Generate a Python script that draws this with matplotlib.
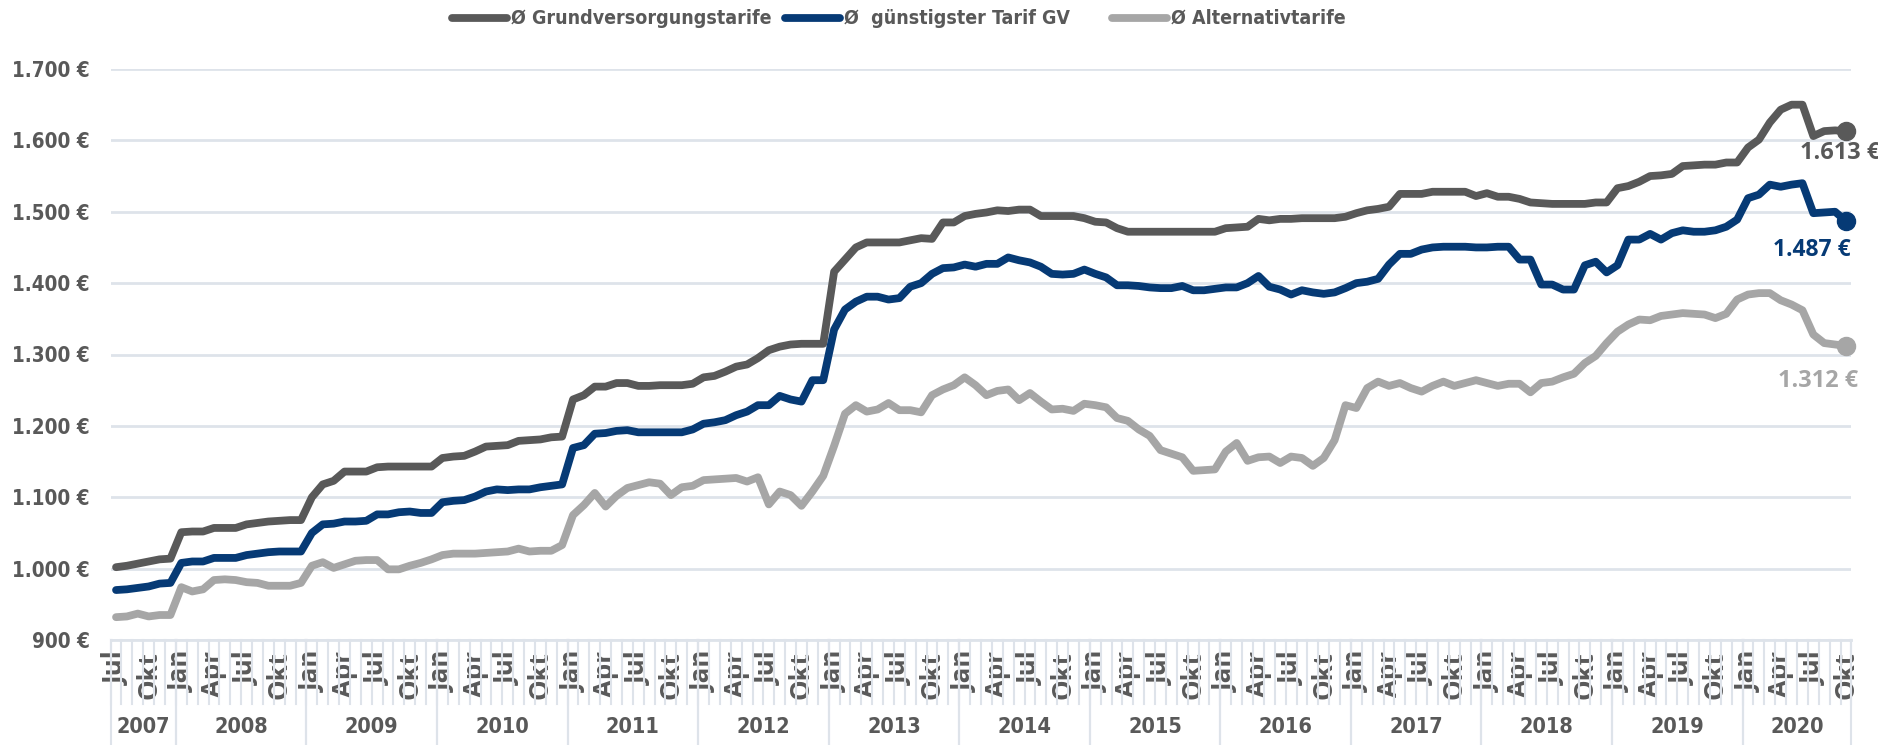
import matplotlib
matplotlib.use("Agg")
import matplotlib.pyplot as plt
from matplotlib.lines import Line2D
from matplotlib import font_manager
import numpy as np

# ---------------- data ----------------
years = [2007, 2008, 2009, 2010, 2011, 2012, 2013, 2014, 2015, 2016, 2017, 2018, 2019, 2020]
months_per_year = [6, 12, 12, 12, 12, 12, 12, 12, 12, 12, 12, 12, 12, 10]
month_names = ["Jan", "Feb", "Mär", "Apr", "Mai", "Jun", "Jul", "Aug", "Sep", "Okt", "Nov", "Dez"]
start_month = 7  # Jul 2007

grundversorgung = [
    1002, 1004, 1007, 1010, 1013, 1014,
    1051, 1052, 1052, 1057, 1057, 1057, 1062, 1064, 1066, 1067, 1068, 1068,
    1100, 1118, 1123, 1136, 1136, 1136, 1142, 1143, 1143, 1143, 1143, 1143,
    1155, 1157, 1158, 1164, 1171, 1172, 1173, 1179, 1180, 1181, 1184, 1185,
    1237, 1243, 1255, 1255, 1260, 1260, 1256, 1256, 1257, 1257, 1257, 1259,
    1268, 1270, 1276, 1283, 1286, 1295, 1306, 1311, 1314, 1315, 1315, 1315,
    1416, 1433, 1450, 1457, 1457, 1457, 1457, 1460, 1463, 1462, 1485, 1485,
    1494, 1497, 1499, 1502, 1501, 1503, 1503, 1494, 1494, 1494, 1494, 1491,
    1486, 1485, 1477, 1472, 1472, 1472, 1472, 1472, 1472, 1472, 1472, 1472,
    1477, 1478, 1479, 1490, 1488, 1490, 1490, 1491, 1491, 1491, 1491, 1493,
    1498, 1502, 1504, 1507, 1525, 1525, 1525, 1528, 1528, 1528, 1528, 1522,
    1526, 1521, 1521, 1518, 1513, 1512, 1511, 1511, 1511, 1511, 1513, 1513,
    1533, 1536, 1542, 1550, 1551, 1553, 1564, 1565, 1566, 1566, 1569, 1569,
    1590, 1601, 1625, 1643, 1650, 1650, 1606, 1613, 1614, 1613,
]
guenstigster_gv = [
    970, 971, 973, 975, 979, 980,
    1008, 1010, 1010, 1015, 1015, 1015, 1019, 1021, 1023, 1024, 1024, 1024,
    1050, 1062, 1063, 1066, 1066, 1067, 1076, 1076, 1079, 1080, 1078, 1078,
    1093, 1095, 1096, 1101, 1108, 1111, 1110, 1111, 1111, 1114, 1116, 1118,
    1169, 1173, 1189, 1190, 1193, 1194, 1191, 1191, 1191, 1191, 1191, 1195,
    1203, 1205, 1208, 1215, 1220, 1229, 1229, 1242, 1237, 1234, 1264, 1264,
    1335, 1363, 1374, 1381, 1381, 1377, 1379, 1395, 1400, 1413, 1421, 1422,
    1426, 1423, 1427, 1427, 1436, 1432, 1429, 1423, 1413, 1412, 1413, 1419,
    1413, 1408, 1397, 1397, 1396, 1394, 1393, 1393, 1396, 1390, 1390, 1392,
    1394, 1394, 1400, 1410, 1395, 1391, 1384, 1390, 1387, 1385, 1387, 1393,
    1400, 1402, 1406, 1426, 1441, 1441, 1447, 1450, 1451, 1451, 1451, 1450,
    1450, 1451, 1451, 1433, 1433, 1398, 1398, 1391, 1391, 1425, 1430, 1415,
    1425, 1461, 1461, 1469, 1461, 1470, 1474, 1472, 1472, 1474, 1479, 1489,
    1519, 1524, 1538, 1535, 1538, 1540, 1498, 1499, 1500, 1487,
]
alternativ = [
    932, 933, 937, 933, 935, 935,
    974, 968, 971, 984, 985, 984, 981, 980, 976, 976, 976, 980,
    1004, 1009, 1001, 1006, 1011, 1012, 1012, 999, 999, 1004, 1008, 1013,
    1019, 1021, 1021, 1021, 1022, 1023, 1024, 1028, 1024, 1025, 1025, 1033,
    1075, 1089, 1106, 1087, 1102, 1113, 1117, 1121, 1119, 1103, 1114, 1116,
    1124, 1125, 1126, 1127, 1122, 1128, 1090, 1108, 1103, 1088, 1108, 1130,
    1172, 1217, 1229, 1220, 1223, 1232, 1222, 1222, 1219, 1243, 1251, 1257,
    1268, 1257, 1243, 1249, 1251, 1236, 1246, 1234, 1223, 1224, 1221, 1231,
    1229, 1226, 1211, 1207, 1195, 1186, 1166, 1161, 1156, 1137, 1138, 1139,
    1164, 1176, 1151, 1156, 1157, 1148, 1157, 1155, 1144, 1155, 1180, 1229,
    1225, 1253, 1262, 1256, 1260, 1253, 1248, 1256, 1262, 1256, 1260, 1264,
    1260, 1256, 1259, 1259, 1247, 1260, 1262, 1268, 1273, 1288, 1298, 1316,
    1332, 1342, 1349, 1348, 1354, 1356, 1358, 1357, 1356, 1351, 1357, 1377,
    1384, 1386, 1386, 1376, 1370, 1362, 1328, 1316, 1314, 1312,
]
series_names = ["Ø Grundversorgungstarife", "Ø  günstigster Tarif GV", "Ø Alternativtarife"]
end_labels = ["1.613 €", "1.487 €", "1.312 €"]
y_ticks = [900, 1000, 1100, 1200, 1300, 1400, 1500, 1600, 1700]

# ---------------- style ----------------
C_DARK = "#595959"
C_NAVY = "#063A75"
C_LIGHT = "#A6A6A6"
C_GRID = "#DEE3EA"
colors = [C_DARK, C_NAVY, C_LIGHT]

fam_names = {f.name for f in font_manager.fontManager.ttflist}
WIDE = "Open Sans" if "Open Sans" in fam_names else "DejaVu Sans"
has_cond = any(f.name == "DejaVu Sans" and f.stretch == "condensed" for f in font_manager.fontManager.ttflist)
NARROW = dict(family="DejaVu Sans", fontstretch="condensed") if has_cond else dict(family="Roboto")

W, H = 1878, 745
fig = plt.figure(figsize=(W / 100, H / 100), dpi=100)
left_px, right_px = 110.6, 1851.4
top_px, bot_px = 69, 640
ax = fig.add_axes([left_px / W, 1 - bot_px / H, (right_px - left_px) / W, (bot_px - top_px) / H])

# categories
cat_month, cat_year = [], []
m = start_month
for y, n in zip(years, months_per_year):
    for k in range(n):
        cat_month.append(month_names[m - 1])
        cat_year.append(y)
        m = m % 12 + 1
x = np.arange(len(grundversorgung))

LW = 5.6
for vals, col in zip([grundversorgung, guenstigster_gv, alternativ], colors):
    ax.plot(x, vals, color=col, lw=LW, solid_capstyle="round", solid_joinstyle="round", zorder=3)
    ax.plot(x[-1], vals[-1], "o", color=col, ms=13, zorder=4, clip_on=False)

ax.set_xlim(-0.5, len(x) - 0.5)
ax.set_ylim(900, 1700)
for s in ax.spines.values():
    s.set_visible(False)

# horizontal gridlines
ax.set_yticks(y_ticks)
ax.set_yticklabels([f"{v:,}".replace(",", ".") + " €" for v in y_ticks])
ax.yaxis.grid(True, color=C_GRID, lw=2)
ax.set_axisbelow(True)
ax.tick_params(axis="y", length=0, pad=15, labelsize=16, labelcolor=C_DARK)
for lab in ax.get_yticklabels():
    lab.set_fontweight("bold")
    lab.set_fontfamily(NARROW["family"])
    if "fontstretch" in NARROW:
        lab.set_fontstretch(NARROW["fontstretch"])
ax.axhline(900, color=C_GRID, lw=2, zorder=1, clip_on=False)

# x axis: month labels every 3 months
tick_idx = [i for i in x if cat_month[i] in ("Jan", "Apr", "Jul", "Okt")]
ax.set_xticks(tick_idx)
ax.set_xticklabels([cat_month[i] for i in tick_idx], rotation=90, va="top", ha="center")
ax.tick_params(axis="x", length=0, pad=8, labelsize=16, labelcolor=C_DARK)
for lab in ax.get_xticklabels():
    lab.set_fontfamily(WIDE)
    lab.set_fontweight("bold")

ax_h = bot_px - top_px
trans = ax.get_xaxis_transform()
month_bottom = -(704 - bot_px) / ax_h
year_bottom = -(H - bot_px) / ax_h
for b in np.arange(-0.5, len(x), 1.0):
    ax.plot([b, b], [0, month_bottom], transform=trans, color=C_GRID, lw=1.5, clip_on=False, zorder=1)

# year separators and labels
year_texts = []
start = -0.5
for y, n in zip(years, months_per_year):
    end = start + n
    for b in (start, end):
        ax.plot([b, b], [0, year_bottom], transform=trans, color=C_GRID, lw=1.5, clip_on=False, zorder=1)
    t = ax.text((start + end) / 2, -(727 - bot_px) / ax_h, str(y), transform=trans, ha="center", va="center",
                fontsize=15, fontweight="bold", color=C_DARK, **NARROW)
    year_texts.append(t)
    start = end

# end labels
end_pos = [(1840, 153), (1812, 250), (1818, 381)]
end_texts = []
for col, txt, (cx, cy) in zip(colors, end_labels, end_pos):
    t = fig.text(cx / W, 1 - cy / H, txt, ha="center", va="center", fontsize=15, fontweight="bold",
                 color=col, family=WIDE)
    end_texts.append(t)

# legend texts (positioned after measuring)
ly = 1 - 18 / H
legend_texts = []
for name in series_names:
    t = fig.text(0, ly, name, ha="left", va="center", fontsize=16, fontweight="bold", color=C_DARK, **NARROW)
    legend_texts.append(t)

# ---- fit text sizes to the measured widths of the reference ----
fig.canvas.draw()
r = fig.canvas.get_renderer()

def fit(t, target):
    w = t.get_window_extent(r).width
    t.set_fontsize(t.get_fontsize() * target / w)

for t in year_texts:
    fit(t, 54)
for t, tw in zip(end_texts, [80, 78, 80]):
    fit(t, tw)
ylab = ax.get_yticklabels()[-1]
ys = 16 * 78 / ylab.get_window_extent(r).width
ax.tick_params(axis="y", labelsize=ys)
okt = [l for l in ax.get_xticklabels() if l.get_text() == "Okt"][0]
xs = 16 * 48 / okt.get_window_extent(r).height
ax.tick_params(axis="x", labelsize=xs)

# legend layout: line 55px, gap 3px, text, then gap before next entry
leg_fs = ys * 0.95
for t in legend_texts:
    t.set_fontsize(leg_fs)
fig.canvas.draw()
widths = [t.get_window_extent(r).width for t in legend_texts]
line_len, gap_lt = 55, 4
gaps_after = [14, 42, 0]
total = sum(line_len + gap_lt + w + g for w, g in zip(widths, gaps_after))
cur = 899 - total / 2
for t, w, g, col in zip(legend_texts, widths, gaps_after, colors):
    fig.add_artist(Line2D([cur / W, (cur + line_len) / W], [ly, ly], transform=fig.transFigure, color=col,
                          lw=LW, solid_capstyle="round"))
    t.set_x((cur + line_len + gap_lt) / W)
    cur += line_len + gap_lt + w + g

fig.savefig("out.png", dpi=100, facecolor="white")
